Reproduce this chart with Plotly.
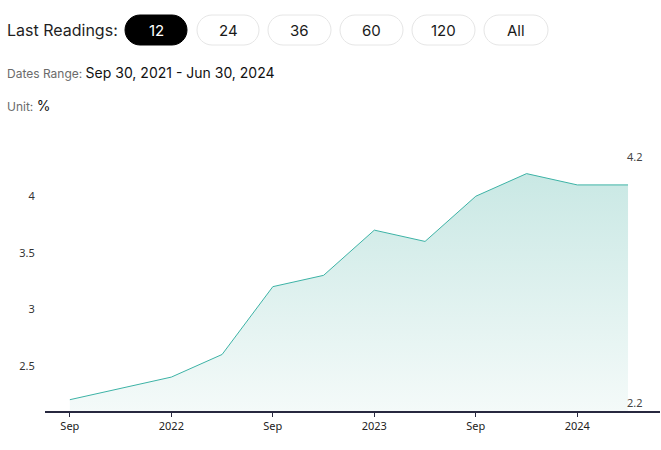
import plotly.graph_objects as go

dates = ["2021-09-30", "2021-12-31", "2022-03-31", "2022-06-30", "2022-09-30", "2022-12-31",
         "2023-03-31", "2023-06-30", "2023-09-30", "2023-12-31", "2024-03-31", "2024-06-30"]
values = [2.2, 2.3, 2.4, 2.6, 3.2, 3.3, 3.7, 3.6, 4.0, 4.2, 4.1, 4.1]
x_tick_dates = ["2021-09-30", "2022-03-31", "2022-09-30", "2023-03-31", "2023-09-30", "2024-03-31"]
x_tick_text = ["Sep", "2022", "Sep", "2023", "Sep", "2024"]
y_tick_vals = [2.5, 3, 3.5, 4]
button_labels = ["12", "24", "36", "60", "120", "All"]
date_range_text = "Sep 30, 2021 - Jun 30, 2024"
unit_text = "%"

W, H = 661, 450
ML, MR, MT, MB = 45, 1, 151, 39
PW, PH = W - ML - MR, H - MT - MB
Y_MIN, Y_MAX = 2.1, 4.4

def px(x):
    return (x - ML) / PW

def py(y):
    return (H - MB - y) / PH

HEADER_FONT = "Inter, Noto Sans, sans-serif"
TICK_FONT = "Noto Sans, Open Sans, sans-serif"

fig = go.Figure()
fig.add_trace(go.Scatter(
    x=dates, y=[Y_MIN] * len(dates), mode="lines", line=dict(width=0),
    hoverinfo="skip", showlegend=False))
fig.add_trace(go.Scatter(
    x=dates, y=values, mode="lines", line=dict(color="#3db3a6", width=1),
    fill="tonexty",
    fillgradient=dict(type="vertical", start=Y_MIN, stop=max(values),
                      colorscale=[[0, "#f4faf9"], [1, "#c9e8e4"]]),
    showlegend=False))

shapes = []
annotations = []

def pill(x0, x1, y0, y1, fill, line):
    r = (y1 - y0) / 2
    k = r * 0.552
    path = (f"M {px(x0 + r)},{py(y0)} L {px(x1 - r)},{py(y0)} "
            f"C {px(x1 - r + k)},{py(y0)} {px(x1)},{py(y0 + r - k)} {px(x1)},{py(y0 + r)} "
            f"C {px(x1)},{py(y0 + r + k)} {px(x1 - r + k)},{py(y1)} {px(x1 - r)},{py(y1)} "
            f"L {px(x0 + r)},{py(y1)} "
            f"C {px(x0 + r - k)},{py(y1)} {px(x0)},{py(y0 + r + k)} {px(x0)},{py(y0 + r)} "
            f"C {px(x0)},{py(y0 + r - k)} {px(x0 + r - k)},{py(y0)} {px(x0 + r)},{py(y0)} Z")
    shapes.append(dict(type="path", xref="paper", yref="paper", path=path,
                       fillcolor=fill, line=dict(color=line, width=1), layer="above"))

annotations.append(dict(x=px(5), y=py(30), xref="paper", yref="paper", xanchor="left", yanchor="middle",
                        text="Last Readings:", showarrow=False,
                        font=dict(family=HEADER_FONT, size=16, color="#1f1f1f")))

pill_x = [(125, 187), (197, 259), (268, 331), (340, 403), (412, 475), (484, 548)]
for i, (lab, (a, b)) in enumerate(zip(button_labels, pill_x)):
    sel = i == 0
    pill(a, b, 15, 45, "#000000" if sel else "#ffffff", "#000000" if sel else "#e6e6e6")
    annotations.append(dict(x=px((a + b) / 2), y=py(30), xref="paper", yref="paper",
                            xanchor="center", yanchor="middle", text=lab, showarrow=False,
                            font=dict(family=HEADER_FONT, size=15,
                                      color="#ffffff" if sel else "#1a1a1a")))

annotations.append(dict(x=px(5), y=py(73), xref="paper", yref="paper", xanchor="left", yanchor="middle",
                        text=("<span style='font-size:12px;color:#6b6b6b'>Dates Range: </span>"
                              f"<span style='font-size:14px;color:#111111'>{date_range_text}</span>"),
                        showarrow=False, font=dict(family=HEADER_FONT, size=14, color="#111111")))
annotations.append(dict(x=px(5), y=py(106), xref="paper", yref="paper", xanchor="left", yanchor="middle",
                        text=("<span style='font-size:12px;color:#6b6b6b'>Unit: </span>"
                              f"<span style='font-size:14px;color:#111111'>{unit_text}</span>"),
                        showarrow=False, font=dict(family=HEADER_FONT, size=14, color="#111111")))

annotations.append(dict(x=dates[-1], y=max(values), xref="x", yref="y", xanchor="left", yanchor="bottom",
                        text=f"{max(values):g}", showarrow=False, xshift=-3, yshift=8,
                        font=dict(family=TICK_FONT, size=11, color="#444444")))
annotations.append(dict(x=dates[-1], y=min(values), xref="x", yref="y", xanchor="left", yanchor="middle",
                        text=f"{min(values):g}", showarrow=False, xshift=-3, yshift=-3,
                        font=dict(family=TICK_FONT, size=11, color="#444444")))

fig.update_layout(
    width=W, height=H, margin=dict(l=ML, r=MR, t=MT, b=MB),
    paper_bgcolor="white", plot_bgcolor="white",
    shapes=shapes, annotations=annotations, showlegend=False,
    xaxis=dict(type="category", range=[-0.49, 11.63], showgrid=False, zeroline=False,
               showline=True, linecolor="#27283f", linewidth=1.5,
               ticks="outside", ticklen=4, tickcolor="#27283f", tickwidth=1,
               tickvals=x_tick_dates, ticktext=x_tick_text,
               tickfont=dict(family=TICK_FONT, size=11, color="#222222")),
    yaxis=dict(range=[Y_MIN, Y_MAX], showgrid=False, zeroline=False, showline=False,
               tickvals=y_tick_vals, ticks="outside", ticklen=7, tickcolor="rgba(0,0,0,0)",
               tickfont=dict(family=TICK_FONT, size=11, color="#333333")),
)

fig.write_html("out.html")
